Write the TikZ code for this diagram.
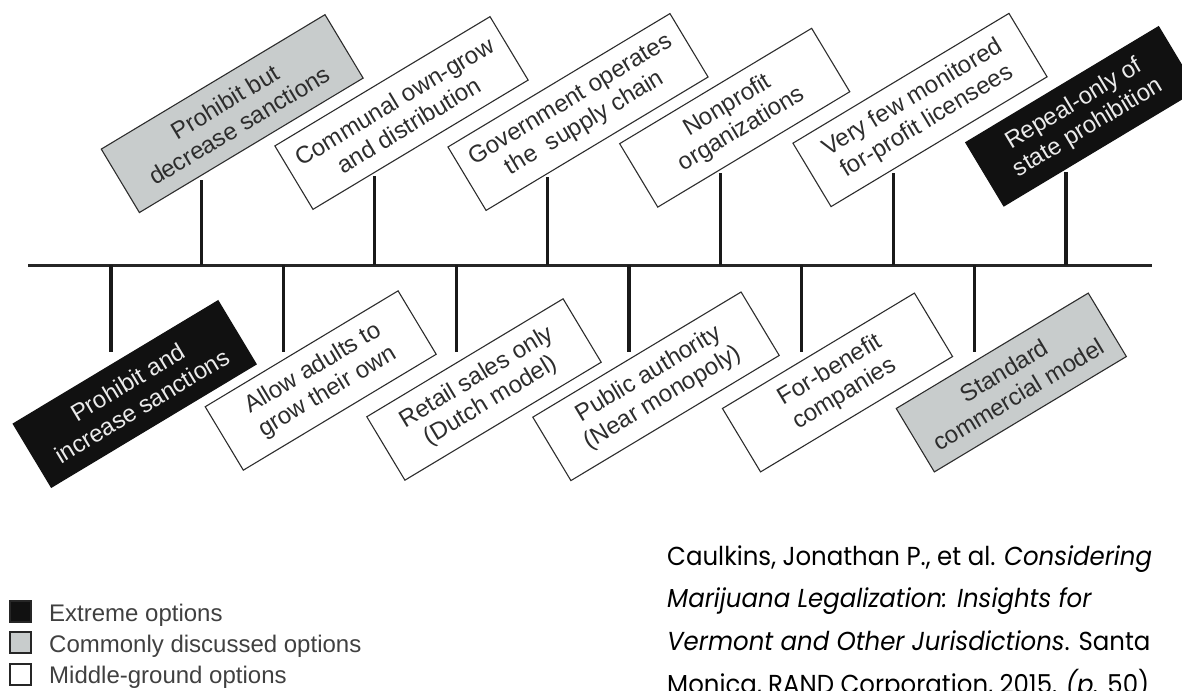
\documentclass[tikz,border=0pt]{standalone}
\usepackage{fontspec}
\setmainfont{Liberation Sans}
\newfontfamily\citefont[FakeStretch=0.94]{Poppins}
\usepackage{xcolor}
\definecolor{boxgray}{RGB}{200,204,204}
\definecolor{boxblack}{RGB}{17,17,17}
\definecolor{labelgray}{RGB}{45,45,45}
\tikzset{
  opt/.style={draw=labelgray, line width=1.1pt, rotate=31, align=center,
    minimum height=74pt, inner sep=2pt, text=labelgray,
    font=\fontsize{24}{27.5}\selectfont},
  midopt/.style={opt, fill=white},
  comopt/.style={opt, fill=boxgray},
  extopt/.style={opt, fill=boxblack, draw=boxblack, text=white!92!black},
  tick/.style={line width=3.2pt, black!90},
  axis/.style={line width=3pt, black!85},
  keybox/.style={draw=black!85, line width=2pt, minimum size=21pt, inner sep=0pt},
  keytext/.style={anchor=base west, inner sep=0pt, text=black!75,
    font=\fontsize{24}{28}\selectfont},
  cite/.style={anchor=base west, inner sep=0pt, font=\fontsize{26}{42}\citefont}
}

\begin{document}
\begin{tikzpicture}[x=1pt,y=-1pt]
  \useasboundingbox (0,0) rectangle (1182,690);
  % time line
  \coordinate (axl) at (28,265);
  \coordinate (axr) at (1152,265);
  \draw[axis] (axl) -- (axr);

  % options above the line
  \node[comopt, minimum width=261pt] (pbd) at (232.2,113.6) {Prohibit but\\decrease sanctions};
  \node[midopt, minimum width=251pt] (cog) at (401.5,113) {Communal own-grow\\and distribution};
  \node[midopt, minimum width=259pt] (gov) at (578,112) {Government operates\\the~ supply chain};
  \node[midopt, minimum width=224pt] (npo) at (734.7,117.7) {Nonprofit\\organizations};
  \node[midopt, minimum width=252pt] (vfm) at (920,110) {Very few monitored\\for-profit licensees};
  \node[extopt, minimum width=225pt] (rep) at (1081.2,116.3) {Repeal-only of\\state prohibition};

  % options below the line
  \node[extopt, minimum width=239pt] (pis) at (134.7,394) {Prohibit and\\increase sanctions};
  \node[midopt, minimum width=225pt] (aag) at (320.7,380.5) {Allow adults to\\grow their own};
  \node[midopt, minimum width=229pt] (rso) at (484,389.5) {Retail sales only\\(Dutch model)};
  \node[midopt, minimum width=243pt] (pua) at (656,386.3) {Public authority\\(Near monopoly)};
  \node[midopt, minimum width=224pt] (fbc) at (837.5,382.5) {For-benefit\\companies};
  \node[comopt, minimum width=224pt] (scm) at (1011.3,382.5) {Standard\\commercial model};

  % ticks
  \foreach \x/\h [count=\i] in {201.7/180,374.6/176,547.5/177,720.4/173,893.3/173,1066/172}{
    \coordinate (up\i) at (\x,265);
    \coordinate (upend\i) at (\x,\h);
    \draw[tick] (up\i) -- (upend\i);
  }
  \foreach \x [count=\i] in {111,283.7,456.4,629,801.8,974.5}{
    \coordinate (dn\i) at (\x,265);
    \coordinate (dnend\i) at (\x,352);
    \draw[tick] (dn\i) -- (dnend\i);
  }

  % key
  \node[keybox, fill=boxblack] (kext) at (20,611.5) {};
  \node[keybox, fill=boxgray] (kcom) at (20,642) {};
  \node[keybox, fill=white] (kmid) at (20,674) {};
  \node[keytext] (text) at (49,621) {Extreme options};
  \node[keytext] (tcom) at (49,652) {Commonly discussed options};
  \node[keytext] (tmid) at (49,683) {Middle-ground options};

  % source
  \node[cite] (cite1) at (667,565) {Caulkins, Jonathan P., et al. \textit{Considering}};
  \node[cite] (cite2) at (667,607) {\textit{Marijuana Legalization: Insights for}};
  \node[cite] (cite3) at (667,650) {\textit{Vermont and Other Jurisdictions}. Santa};
  \node[cite] (cite4) at (667,693) {Monica, RAND Corporation, 2015. \textit{(p.} 50)};
\end{tikzpicture}
\end{document}
